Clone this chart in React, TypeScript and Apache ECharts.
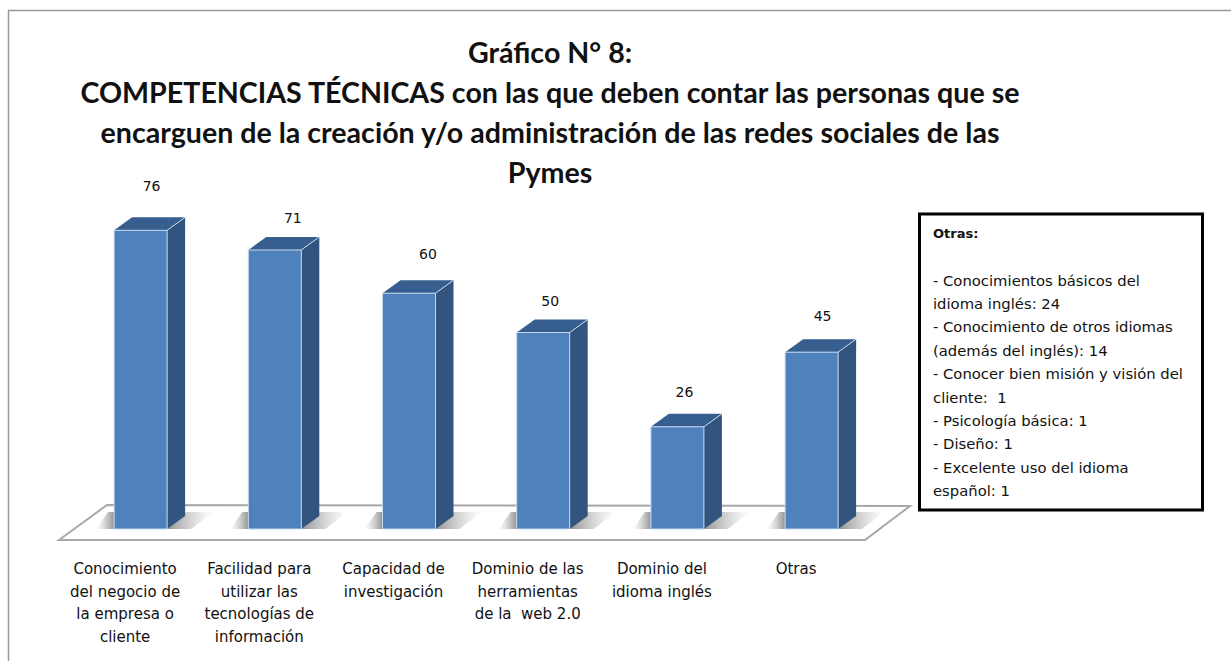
import React, { useEffect, useRef } from "react";
import * as echarts from "echarts";

const categories = [
  "Conocimiento\ndel negocio de\nla empresa o\ncliente",
  "Facilidad para\nutilizar las\ntecnologías de\ninformación",
  "Capacidad de\ninvestigación",
  "Dominio de las\nherramientas\nde la  web 2.0",
  "Dominio del\nidioma inglés",
  "Otras",
];
const values = [76, 71, 60, 50, 26, 45];
const labelDx = [11, 18, 19, 7, 7, 11];
const labelDy = [44, 32, 39, 32, 35, 36];
const titleLines = [
  "Gráfico N° 8:",
  "COMPETENCIAS TÉCNICAS con las que deben contar las personas que se",
  "encarguen de la creación y/o administración de las redes sociales de las",
  "Pymes",
];
const noteHead = "Otras:";
const noteLines = [
  "- Conocimientos básicos del",
  "idioma inglés: 24",
  "- Conocimiento de otros idiomas",
  "(además del inglés): 14",
  "- Conocer bien misión y visión del",
  "cliente:  1",
  "- Psicología básica: 1",
  "- Diseño: 1",
  "- Excelente uso del idioma",
  "español: 1",
];

const FONT = "'DejaVu Sans', sans-serif";
const W = 53, DX = 18, DY = 13, SHIFT = 15.5;

export default function App() {
  const ref = useRef<HTMLDivElement>(null);
  useEffect(() => {
    document.body.style.margin = "0";
    const chart = echarts.init(ref.current!, undefined, { renderer: "svg" });
    chart.setOption({
      animation: false,
      backgroundColor: "#fff",
      title: {
        text: titleLines.join("\n"),
        left: 545,
        top: 27,
        textAlign: "center",
        textStyle: { fontFamily: "Lato, sans-serif", fontSize: 28.6, fontWeight: "bold", color: "#111", lineHeight: 40, align: "center" },
      },
      grid: { left: 58, width: 805.2, top: 214.6, height: 314.4 },
      xAxis: {
        type: "category",
        data: categories,
        axisLine: { show: false },
        axisTick: { show: false },
        axisLabel: { interval: 0, margin: 29, fontFamily: FONT, fontSize: 15, lineHeight: 22.5, color: "#111", align: "center", verticalAlign: "top" },
      },
      yAxis: { type: "value", min: 0, max: 80, show: false, splitLine: { show: false } },
      graphic: [
        { type: "polyline", shape: { points: [[8.5, 661], [8.5, 10.5], [1231, 10.5]] }, style: { fill: "none", stroke: "#999", lineWidth: 1.5 }, z: -10 },
        { type: "polygon", shape: { points: [[59, 540], [107, 505], [910, 506], [865, 540]] }, style: { fill: "#fff", stroke: "#a8a8a8", lineWidth: 2 }, z: -5 },
        { type: "rect", shape: { x: 919.5, y: 214, width: 283, height: 296 }, style: { fill: "#fff", stroke: "#000", lineWidth: 3 }, z: 5 },
        { type: "text", x: 933, y: 233, style: { text: noteHead, font: `bold 13px ${FONT}`, fill: "#111", verticalAlign: "middle" }, z: 6 },
        ...noteLines.map((t, i) => ({ type: "text", x: 933, y: 280 + i * 23.4, style: { text: t, font: `14.8px ${FONT}`, fill: "#111", verticalAlign: "middle" }, z: 6 })),
      ],
      series: [
        {
          type: "custom",
          data: values,
          encode: { x: 0, y: 1 },
          clip: false,
          renderItem: (params: any, api: any) => {
            const idx = api.value(0);
            const i = params.dataIndex;
            const [cx, yTop] = api.coord([idx, api.value(1)]);
            const [, yBase] = api.coord([idx, 0]);
            const x0 = cx + SHIFT - W / 2;
            const x1 = x0 + W;
            const edge = "#c5daef";
            const shadow = (x: number, width: number, toRight: boolean) => ({
              type: "polygon",
              shape: { points: toRight
                ? [[x, yBase], [x, yBase - DY - 4], [x + width, yBase - DY - 4], [x + width - 22, yBase]]
                : [[x, yBase], [x, yBase - DY - 4], [x - width + 12, yBase - DY - 4], [x - width, yBase]] },
              style: {
                fill: new echarts.graphic.LinearGradient(toRight ? 0 : 1, 0, toRight ? 1 : 0, 0, [
                  { offset: 0, color: "rgba(100,100,100,0.7)" },
                  { offset: 1, color: "rgba(160,160,160,0)" },
                ]),
              },
            });
            return {
              type: "group",
              children: [
                shadow(x1, 46, true),
                shadow(x0, 18, false),
                { type: "polygon", shape: { points: [[x1, yBase], [x1 + DX, yBase - DY], [x1 + DX, yTop - DY], [x1, yTop]] }, style: { fill: "#33547f" } },
                { type: "polygon", shape: { points: [[x0, yTop], [x0 + DX, yTop - DY], [x1 + DX, yTop - DY], [x1, yTop]] }, style: { fill: "#365e8f" } },
                { type: "rect", shape: { x: x0, y: yTop, width: W, height: yBase - yTop }, style: { fill: "#4f81bd", stroke: edge, lineWidth: 1 } },
                { type: "line", shape: { x1, y1: yTop, x2: x1 + DX, y2: yTop - DY }, style: { stroke: edge, lineWidth: 1 } },
                { type: "text", x: cx + SHIFT + labelDx[i], y: yTop - labelDy[i], style: { text: String(values[i]), font: `14px ${FONT}`, fill: "#111", textAlign: "center", textVerticalAlign: "middle" } },
              ],
            };
          },
        },
      ],
    });
    return () => chart.dispose();
  }, []);
  return <div ref={ref} style={{ width: 1231, height: 661 }} />;
}
